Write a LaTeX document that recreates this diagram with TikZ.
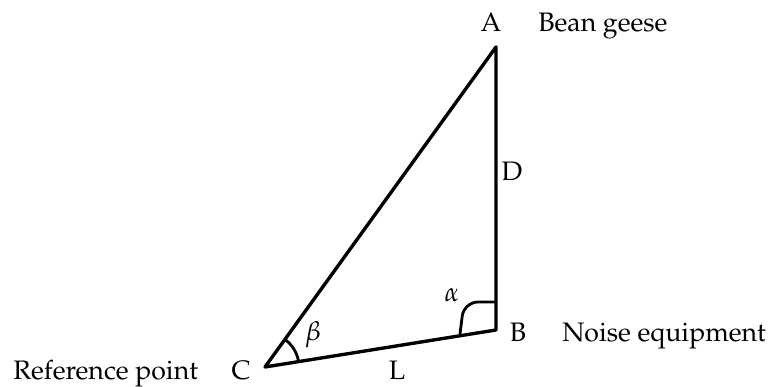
\documentclass[tikz,border=0pt]{standalone}
\usepackage[T1]{fontenc}
\usepackage{mathpazo}
\usetikzlibrary{calc}

\tikzset{
    side/.style  = {line width=2.4pt, line join=round},
    anglemark/.style = {line width=2pt},
    lbl/.style   = {font=\fontsize{19}{23}\selectfont, inner sep=0pt}
}

\begin{document}
\begin{tikzpicture}
    \useasboundingbox (0,0) rectangle (19.3,9.675);

    % triangle corners
    \coordinate (A) at (12.4,8.5);
    \coordinate (B) at (12.4,1.425);
    \coordinate (C) at (6.625,0.5);

    \draw[side] (A) -- (B) -- (C) -- cycle;

    % angle at B
    \coordinate (alphafoot) at (11.5,1.325);
    \coordinate (alphatop)  at (12.4,2.125);
    \draw[anglemark, rounded corners=10pt] (alphafoot) -- (11.6,2.125) -- (alphatop);

    % angle at C
    \draw[anglemark] ($(C)+(9.1:0.85)$) arc (9.1:54.2:0.85);

    % labels
    \node[lbl, anchor=base] (labA) at (12.275,8.875) {A};
    \node[lbl, anchor=base west] (bean) at (13.45,8.875) {Bean geese};
    \node[lbl, anchor=base] (labD) at (12.8,5.15) {D};
    \node[lbl, anchor=base] (labB) at (12.95,1.125) {B};
    \node[lbl, anchor=base west] (noise) at (14.05,1.125) {Noise equipment};
    \node[lbl, anchor=base] (labC) at (6.025,0.19) {C};
    \node[lbl, anchor=base west] (refpt) at (0.325,0.19) {Reference point};
    \node[lbl, anchor=base] (labL) at (9.925,0.19) {L};
    \node[lbl] (alpha) at (11.3,2.3) {$\alpha$};
    \node[lbl] (beta) at (7.825,1.3) {$\beta$};
\end{tikzpicture}
\end{document}
